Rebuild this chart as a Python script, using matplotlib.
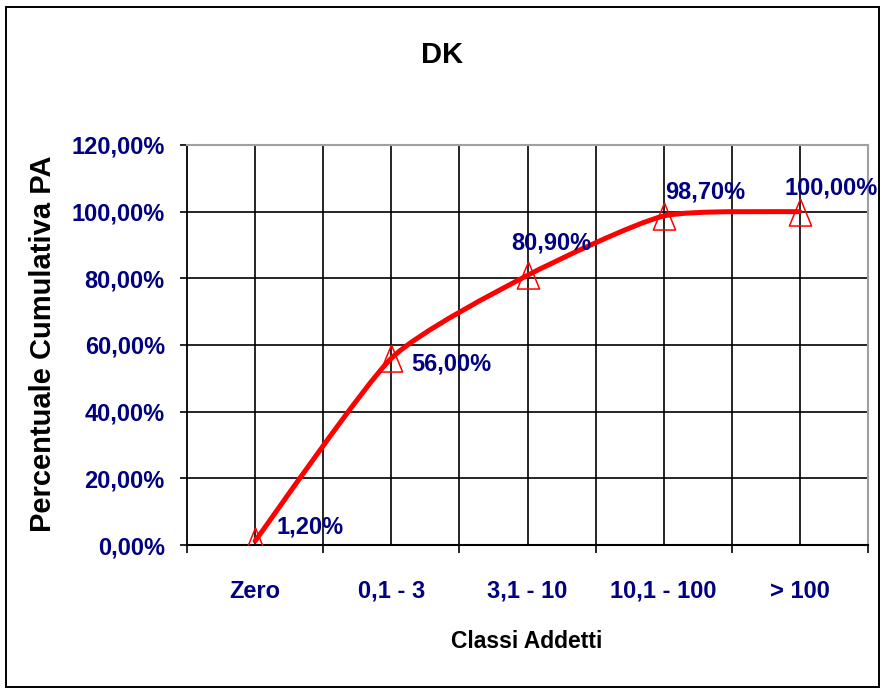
import numpy as np
import matplotlib
matplotlib.use("Agg")
import matplotlib.pyplot as plt
from matplotlib.path import Path
from matplotlib.patches import PathPatch, Rectangle
from matplotlib.ticker import FuncFormatter, MultipleLocator

plt.rcParams['font.family'] = ['Liberation Sans', 'DejaVu Sans']
plt.rcParams['font.weight'] = 'bold'

categories = ['Zero', '0,1 - 3', '3,1 - 10', '10,1 - 100', '> 100']
cum_pct = [0.012, 0.56, 0.809, 0.987, 1.00]
labels = ['1,20%', '56,00%', '80,90%', '98,70%', '100,00%']

navy = '#000080'
red = '#ff0000'

fig = plt.figure(figsize=(8.82, 6.89), dpi=100)
ax = fig.add_axes([187 / 882, 1 - 545 / 689, (868 - 187) / 882, 400 / 689])

x = np.arange(len(categories))
y = np.array(cum_pct)

# smoothed line, milder than catmull-rom so it doesn't overshoot
k = 0.1
verts = [(x[0], y[0])]
codes = [Path.MOVETO]
n = len(x)
for i in range(n - 1):
    p0 = np.array([x[max(i - 1, 0)], y[max(i - 1, 0)]])
    p1 = np.array([x[i], y[i]])
    p2 = np.array([x[i + 1], y[i + 1]])
    p3 = np.array([x[min(i + 2, n - 1)], y[min(i + 2, n - 1)]])
    c1 = p1 + (p2 - p0) * k
    c2 = p2 - (p3 - p1) * k
    if i == n - 2:
        c2[1] = min(c2[1], p2[1])
    verts += [tuple(c1), tuple(c2), tuple(p2)]
    codes += [Path.CURVE4] * 3
ax.add_patch(PathPatch(Path(verts, codes), fill=False, edgecolor=red, lw=3.6,
                       capstyle='round', joinstyle='round', zorder=3))

tri = [(0, 1), (-0.82, -1), (0.82, -1), (0, 1)]
ax.plot(x, y, ls='none', marker=tri, ms=19.5, mfc='none', mec=red, mew=1.1, zorder=4)

# label offsets in pixels (dx, dy, ha)
offs = [(21, 14, 'left'), (20, -6, 'left'), (24, 32, 'center'), (1, 24, 'left'), (-15, 24, 'left')]
for xi, yi, lab, (dx, dy, ha) in zip(x, y, labels, offs):
    ax.annotate(lab, (xi, yi), xytext=(dx * 0.72, dy * 0.72), textcoords='offset points',
                ha=ha, va='center', color=navy, fontsize=17, fontweight='bold', zorder=5)

ax.set_xlim(-0.5, len(categories) - 0.5)
ax.set_ylim(0, 1.2)
ax.yaxis.set_major_locator(MultipleLocator(0.2))
ax.yaxis.set_major_formatter(FuncFormatter(lambda v, p: ('%.2f%%' % (v * 100)).replace('.', ',')))
ax.set_xticks(x)
ax.set_xticklabels(categories)
ax.set_xticks(np.arange(-0.5, len(categories), 1.0), minor=True)

ax.tick_params(axis='x', which='major', length=0, pad=25, labelsize=17, labelcolor=navy)
ax.tick_params(axis='x', which='minor', length=6, width=1.2, direction='out', color='black')
ax.tick_params(axis='y', length=5, width=1.2, direction='out', pad=11, labelsize=17, labelcolor=navy)
for t in ax.get_xticklabels() + ax.get_yticklabels():
    t.set_fontweight('bold')

# grid lines every half category, and every 20%
for gx in np.arange(0, len(categories) - 0.5 + 0.01, 0.5):
    ax.axvline(gx, color='black', lw=1.2, zorder=1)
ax.grid(axis='y', color='black', lw=1.2, zorder=1)
ax.set_axisbelow(True)

ax.spines['left'].set_linewidth(1.3)
ax.spines['bottom'].set_linewidth(1.5)
ax.spines['top'].set_color('#a0a0a0')
ax.spines['right'].set_color('#a0a0a0')
ax.spines['top'].set_linewidth(1.5)
ax.spines['right'].set_linewidth(1.5)

fig.text(442 / 882, 1 - 55 / 689, 'DK', ha='center', va='center', fontsize=21, fontweight='bold')
fig.text(527 / 882, 1 - 641 / 689, 'Classi Addetti', ha='center', va='center', fontsize=16.5, fontweight='bold')
fig.text(43 / 882, 1 - 344 / 689, 'Percentuale Cumulativa PA', ha='center', va='center',
         rotation=90, fontsize=21, fontweight='bold')

# outer chart border
fig.patches.append(Rectangle((6 / 882, 2 / 689), 873 / 882, 680 / 689, transform=fig.transFigure,
                             fill=False, edgecolor='black', lw=1.4))

plt.savefig('out.png', dpi=100)
